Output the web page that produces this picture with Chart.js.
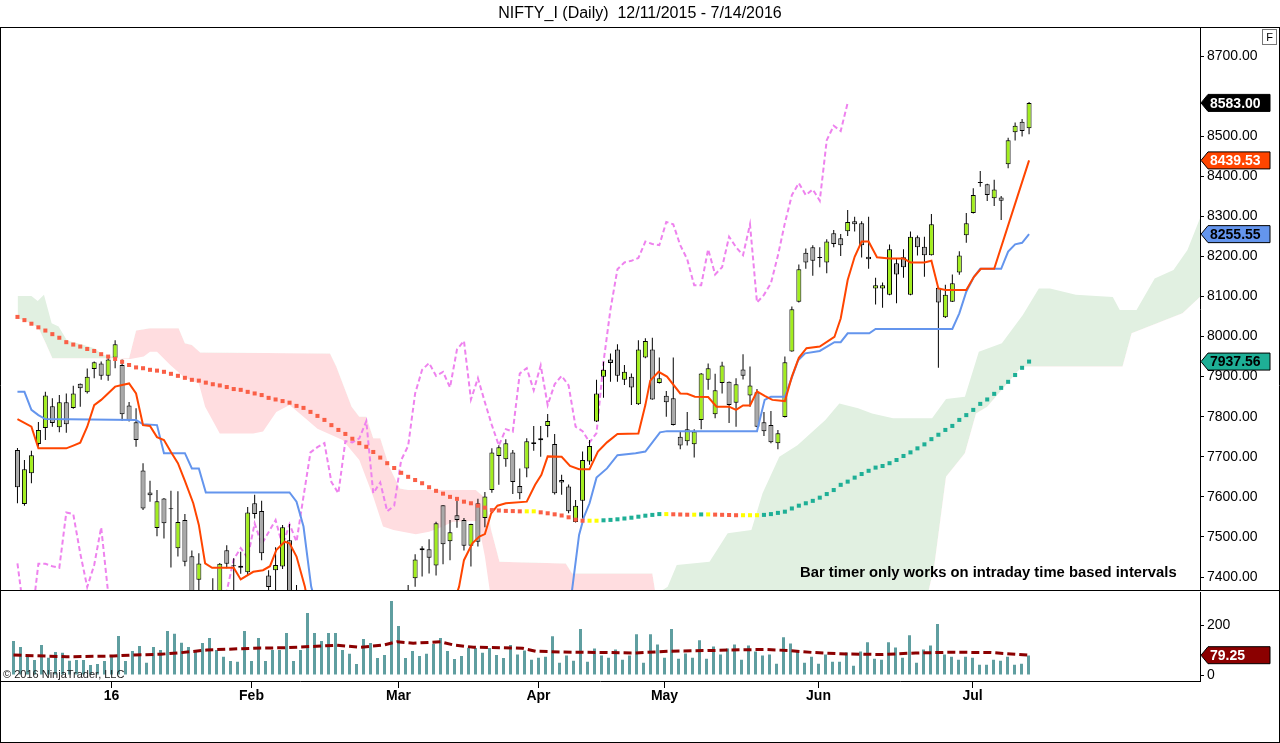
<!DOCTYPE html>
<html>
<head>
<meta charset="utf-8">
<script src="https://cdn.jsdelivr.net/npm/chart.js@4.4.1/dist/chart.umd.min.js"></script>
<style>
html,body{margin:0;padding:0;background:#fff;width:1280px;height:743px;overflow:hidden;font-family:"Liberation Sans",Arial,sans-serif}
#wrap{position:relative;width:1280px;height:743px}
canvas{position:absolute;left:0;top:0}
.t{position:absolute;white-space:nowrap;color:#000}
</style>
</head>
<body>
<div id="wrap">
<canvas id="main" width="1280" height="743"></canvas>
<canvas id="vol" width="1280" height="743"></canvas>
<div class="t" style="left:0;top:4px;width:1280px;text-align:center;font-size:16px;line-height:18px">NIFTY_I (Daily)&nbsp; 12/11/2015 - 7/14/2016</div>
<div class="t" style="left:1262px;top:29px;width:13px;height:14px;border:1px solid #777;font-size:11px;line-height:14px;text-align:center">F</div>
<div class="t" style="left:800px;top:563px;font-size:14.8px;line-height:18px;font-weight:bold">Bar timer only works on intraday time based intervals</div>
<div class="t" style="left:3px;top:668px;font-size:11px;line-height:13px;color:#222">© 2016 NinjaTrader, LLC</div>
</div>
<script>
// ---------- DATA ----------
const monthTicks  = [14, 34, 55, 75, 93, 115, 137];
const monthLabels = ['16', 'Feb', 'Mar', 'Apr', 'May', 'Jun', 'Jul'];
const priceTicks  = [7400, 7500, 7600, 7700, 7800, 7900, 8000, 8100, 8200, 8300, 8400, 8500, 8700];
const volumeTicks = [0, 200];

const opens = [7717,7582,7659,7732,7772,7826,7774,7836,7822,7882,
 7861,7919,7933,7902,7947,7929,7828,7786,7666,7611,
 7522,7596,7571,7472,7542,7452,7393,7330,7330,7320,
 7467,7429,7428,7412,7584,7565,7404,7417,7426,7492,
 7350,7300,7200,6990,7080,7200,7020,7140,7190,7240,
 7250,7100,7050,7000,7060,7030,7250,7397,7467,7469,
 7429,7579,7489,7554,7542,7478,7584,7547,7617,7702,
 7694,7711,7627,7671,7732,7741,7777,7732,7642,7626,
 7537,7590,7688,7788,7900,7943,7968,7892,7900,7831,
 7948,7968,7884,7852,7846,7750,7739,7731,7792,7892,
 7806,7884,7887,7835,7918,7853,7861,7786,7779,7734,
 7799,7963,8087,8209,8223,8198,8185,8258,8245,8263,
 8288,8283,8199,8120,8120,8104,8183,8198,8104,8248,
 8224,8203,8122,8048,8087,8160,8253,8308,8385,8380,
 8345,8347,8430,8510,8536,8520];
const highs = [7722,7692,7715,7787,7862,7846,7854,7858,7877,7883,
 7920,7938,7938,7946,7991,7943,7837,7821,7684,7640,
 7617,7597,7615,7614,7557,7466,7459,7350,7397,7435,
 7479,7447,7463,7575,7605,7590,7417,7474,7530,7532,
 7380,7320,7220,7030,7200,7210,7140,7210,7250,7270,
 7260,7120,7060,7080,7100,7250,7380,7457,7477,7494,
 7538,7579,7542,7590,7547,7533,7595,7612,7721,7729,
 7744,7717,7671,7746,7777,7777,7807,7757,7655,7631,
 7592,7713,7742,7892,7937,7958,7981,7929,7908,7991,
 7996,7997,7948,7864,7948,7763,7812,7769,7909,7933,
 7907,7937,7888,7896,7956,7925,7869,7812,7814,7767,
 7950,8075,8180,8220,8228,8223,8243,8266,8256,8316,
 8299,8288,8299,8147,8135,8230,8195,8218,8262,8252,
 8249,8306,8123,8129,8155,8213,8308,8370,8413,8381,
 8391,8351,8496,8534,8543,8585];
const lows = [7584,7578,7634,7725,7742,7775,7761,7760,7820,7825,
 7858,7896,7892,7890,7921,7790,7788,7725,7567,7588,
 7502,7496,7424,7451,7427,7300,7355,7240,7260,7300,
 7422,7360,7408,7405,7546,7442,7350,7360,7420,7340,
 7280,7210,6960,6900,7060,7040,6990,7110,7170,7200,
 7100,7000,6960,6980,6850,7020,7240,7376,7401,7409,
 7404,7432,7442,7523,7466,7426,7476,7524,7610,7630,
 7675,7607,7594,7649,7715,7700,7749,7606,7605,7559,
 7536,7546,7680,7787,7847,7887,7887,7879,7829,7829,
 7946,7842,7883,7800,7778,7719,7728,7698,7769,7867,
 7796,7858,7784,7775,7893,7825,7774,7752,7734,7719,
 7798,7962,8085,8169,8152,8173,8158,8223,8201,8251,
 8262,8197,8169,8080,8072,8103,8083,8147,8103,8202,
 8149,8202,7922,8046,8086,8154,8234,8307,8374,8338,
 8326,8291,8420,8489,8499,8505];
const closes = [7624,7669,7704,7767,7853,7784,7836,7781,7858,7871,
 7900,7936,7902,7943,7981,7806,7792,7742,7571,7604,
 7589,7534,7569,7537,7438,7340,7434,7300,7285,7433,
 7433,7427,7423,7561,7557,7459,7375,7430,7524,7360,
 7310,7230,6990,7000,7180,7065,7125,7210,7230,7255,
 7125,7035,6990,7045,7000,7240,7365,7444,7472,7448,
 7534,7482,7512,7542,7478,7532,7488,7601,7711,7724,
 7734,7637,7609,7739,7736,7746,7789,7609,7636,7564,
 7578,7692,7727,7858,7917,7934,7902,7912,7873,7968,
 7989,7843,7896,7836,7779,7728,7769,7763,7908,7921,
 7866,7928,7829,7881,7902,7878,7775,7764,7736,7759,
 7936,8068,8168,8185,8189,8196,8237,8231,8228,8286,
 8280,8228,8193,8128,8128,8218,8155,8173,8249,8223,
 8203,8280,8085,8104,8133,8202,8283,8353,8383,8353,
 8367,8339,8490,8526,8513,8583];
const volumes = [136,112,73,60,120,69,92,89,57,60,
 60,40,44,56,73,156,56,96,116,49,
 112,100,176,165,129,112,100,128,148,100,
 73,56,53,176,56,148,56,100,100,168,
 56,100,248,168,136,168,168,100,85,44,
 144,128,68,80,296,196,68,96,76,85,
 124,148,96,64,76,108,108,89,108,80,
 68,120,82,98,61,69,73,155,49,78,
 57,184,53,106,78,69,102,61,78,163,
 49,163,122,69,184,65,86,69,139,65,
 114,82,106,122,61,118,94,78,82,45,
 151,126,98,49,73,45,82,53,53,90,
 37,94,131,65,61,131,110,69,159,49,
 102,118,204,82,73,61,73,69,41,41,
 61,57,73,41,45,78];
// Conversion line (bar index, value) vertices
const tenkan = [[0,7794],[2,7775],[3,7721],[7,7721],[8,7728],[9,7735],[10,7775],[11,7829],[12,7842],[14,7875],[15,7879],[16,7883],[17,7858],[18,7779],[19,7777],[20,7749],[21,7742],[22,7712],[23,7684],[24,7640],[25.2,7584],[26,7530],[26.9,7434],[27.9,7423],[31,7423],[32,7394],[33.8,7413],[35.2,7417],[36.2,7427],[37.1,7467],[38.3,7488],[39,7484],[40,7451],[41.2,7376],[42,7300],[45,7150],[50,7090],[55,7050],[60,7200],[63.3,7376],[64,7442],[65.2,7484],[66.2,7501],[67,7507],[67.9,7559],[68.8,7578],[70,7584],[73,7588],[74.2,7630],[75.1,7655],[76,7701],[78,7700],[79.2,7677],[80.5,7669],[82,7669],[83.2,7713],[84.5,7736],[86,7757],[89,7758],[90,7829],[90.7,7890],[91.9,7912],[93.1,7900],[95,7858],[96,7857],[97.1,7850],[99,7849],[100.2,7825],[102,7825],[103,7817],[104,7828],[105,7828],[106,7863],[107.1,7852],[108.2,7842],[110,7839],[111,7900],[112,7947],[113.1,7971],[115,7975],[117.1,7999],[118,8045],[119,8141],[120,8199],[121,8237],[122,8237],[123.2,8198],[125,8195],[127,8195],[128,8185],[130,8185],[131,8189],[132,8120],[133,8116],[136,8116],[137.1,8149],[138.1,8169],[140,8169],[145,8439.53]];
// Base line vertices
const kijun = [[0,7862],[1,7862],[2,7817],[3,7804],[4,7794],[17,7792],[18,7781],[20,7779],[21,7709],[24,7709],[25,7671],[26,7671],[27,7611],[39,7611],[40,7588],[41,7526],[42.1,7376],[43,7320],[50,7260],[60,7230],[70,7290],[79,7300],[80.5,7505],[81.2,7550],[82,7584],[83,7648],[84.5,7671],[86,7704],[88.6,7709],[90,7713],[92.1,7761],[93.1,7764],[106,7764],[107.1,7842],[108,7850],[110,7850],[111.9,7941],[112.9,7958],[115,7964],[117.1,7986],[118,7986],[119,8008],[122.1,8008],[123,8019],[134,8019],[135,8058],[136,8112],[137.1,8149],[138,8169],[141,8169],[142,8212],[143,8230],[144,8234],[145,8255.55]];
// Leading span A / B vertices (cloud edges)
const senkouA = [[0,8101],[2,8101],[2.9,8089],[3.8,8104],[4.9,8033],[5.9,8025],[7.1,7990],[9.5,7979],[11,7971],[12.3,7954],[15.3,7944],[16.2,7944],[18.1,7950],[19,7962],[20,7962],[21.9,7929],[23.8,7900],[26,7883],[26.9,7825],[29,7758],[33.8,7758],[35.2,7763],[37.1,7812],[39,7829],[41,7800],[43,7770],[46.6,7742],[47,7734],[49,7692],[51,7600],[52.4,7526],[53.9,7517],[57.1,7507],[59,7513],[61,7526],[62.4,7538],[66,7540],[67,7451],[68,7330],[72,7200],[80,7160],[88,7250],[92,7362],[93.2,7376],[94.5,7430],[99.2,7438],[101.8,7509],[105.2,7517],[106.8,7609],[109.2,7700],[111.8,7729],[115.8,7792],[117.8,7833],[120.5,7821],[122.5,7808],[125.5,7796],[131.1,7796],[133.1,7844],[135.8,7850],[137.8,7962],[141.1,7983],[144.1,8054],[146.4,8120],[148,8120],[151.7,8104],[157,8099],[158,8066],[160.4,8066],[163,8145],[165.7,8166],[167.7,8216],[169.5,8295],[171,8345]];
const senkouB = [[0,8045],[1,8040],[2,8032],[3,8022],[4,7985],[5,7946],[16,7946],[17,8015],[19,8021],[23.1,8021],[24,7983],[25,7979],[26.2,7960],[44.8,7958],[45.7,7925],[47.9,7825],[49,7800],[50,7800],[51,7746],[52,7746],[53.3,7675],[54.8,7621],[56,7617],[65.7,7617],[67.1,7596],[67.9,7517],[69.1,7438],[78.6,7434],[79.5,7409],[91,7409],[92,7300],[100,7280],[120,7290],[130,7320],[131.4,7426],[133.1,7650],[135.8,7709],[137.4,7808],[139,7825],[143.1,7908],[144,7925],[158.4,7925],[159.7,8008],[167,8058],[169.5,8099],[171,8100]];
// Moving average dots, one per bar
const maDots = [8049,8041,8032,8023,8015,8006,7997,7986,7980,7975,
 7969,7964,7956,7950,7944,7937,7929,7923,7921,7917,
 7915,7912,7907,7902,7897,7892,7890,7885,7881,7878,
 7874,7869,7867,7862,7858,7854,7847,7843,7839,7835,
 7827,7822,7812,7802,7792,7779,7767,7757,7745,7734,
 7725,7712,7698,7684,7672,7660,7650,7642,7634,7624,
 7615,7608,7600,7595,7588,7584,7578,7573,7567,7566,
 7565,7564.5,7563.9,7563.9,7563.9,7561.4,7559,7556.4,7553.5,7549,
 7543,7540.5,7540.5,7540.5,7541.5,7542.5,7544,7546,7548,7550.5,
 7553,7555,7557,7557,7556.5,7556,7555.5,7555.5,7556.2,7556.2,
 7555.7,7555.2,7554.7,7554.2,7554.2,7554.2,7554.2,7555,7557,7560,
 7563,7571,7578,7584,7590,7598,7607,7617,7630,7638,
 7648,7657,7665,7673,7677,7684,7692,7702,7711,7721,
 7731,7744,7755,7767,7777,7792,7804,7817,7832,7843,
 7857,7872,7887,7904,7922,7937.56];
// Volume moving average vertices
const volumeMA = [[0,80],[2.9,77],[7.6,73],[14.3,76],[17.2,80],[21,83],[23.8,89],[27.6,100],[31.4,104],[34.3,107],[38.6,109],[43.3,115],[46.2,119],[49.5,111],[52.9,120],[54.8,133],[57.1,127],[61,133],[62.9,120],[65.7,111],[69.5,109],[72.7,107],[74.6,95],[80,91],[85,90],[88.7,88],[93.6,95],[99.5,98],[104.4,101],[107.3,102],[110.7,98],[114.2,90],[119,84],[124,82],[128.9,88],[133.8,91],[139.6,90],[145,79.25]];

// ---------- STYLE ----------
const UP = '#A2EE1E', DOWN = '#A9A9A9';
const C_TENKAN = '#FF4500', C_KIJUN = '#6495ED', C_CHIKOU = '#EE82EE';
const C_GREEN = '#E1F0E1', C_PINK = '#FFDDE0';
const C_RED = '#FA5F46', C_YEL = '#FFFF00', C_TEAL = '#1EAF96';
const C_VOL = '#5F9EA0', C_VMA = '#8B0000';
const FONT = '"Liberation Sans", Arial, sans-serif';
Chart.defaults.font.family = FONT;
Chart.defaults.color = '#000';

const X_MIN = -13.5 / 7, X_MAX = X_MIN + 1200 / 7;
const pts = a => a.map(([x, y]) => ({x, y}));
const lastClose = closes[closes.length - 1];
const chikou = closes.slice(26).map((c, i) => ({x: i, y: c}));

function drawTag(ctx, x, y, text, bg, fg) {
  const h = 8.5;
  ctx.save();
  ctx.beginPath();
  ctx.moveTo(x + 1, y);
  ctx.lineTo(x + 8, y - h);
  ctx.lineTo(x + 70, y - h);
  ctx.lineTo(x + 70, y + h);
  ctx.lineTo(x + 8, y + h);
  ctx.closePath();
  ctx.fillStyle = bg; ctx.fill();
  ctx.strokeStyle = '#000'; ctx.lineWidth = 1; ctx.stroke();
  ctx.fillStyle = fg;
  ctx.font = 'bold 14px ' + FONT;
  ctx.textBaseline = 'middle'; ctx.textAlign = 'left';
  ctx.fillText(text, x + 10, y + 1);
  ctx.restore();
}

const mainTags = {
  id: 'mainTags',
  afterDraw(chart) {
    const {ctx, chartArea: a} = chart;
    const y = chart.scales.y;
    ctx.save();
    ctx.strokeStyle = '#000'; ctx.lineWidth = 1;
    ctx.beginPath();
    ctx.moveTo(0, a.top - 0.5); ctx.lineTo(1280, a.top - 0.5);
    ctx.moveTo(0.5, a.top - 0.5); ctx.lineTo(0.5, 743);
    ctx.moveTo(1279.5, a.top - 0.5); ctx.lineTo(1279.5, 743);
    ctx.moveTo(0, 742.5); ctx.lineTo(1280, 742.5);
    ctx.moveTo(0, a.bottom + 0.5); ctx.lineTo(1280, a.bottom + 0.5);
    ctx.stroke();
    ctx.restore();
    const tl = tenkan[tenkan.length - 1][1], kl = kijun[kijun.length - 1][1], ml = maDots[maDots.length - 1];
    drawTag(ctx, a.right, y.getPixelForValue(lastClose), lastClose.toFixed(2), '#000', '#fff');
    drawTag(ctx, a.right, y.getPixelForValue(tl), tl.toFixed(2), C_TENKAN, '#fff');
    drawTag(ctx, a.right, y.getPixelForValue(kl), kl.toFixed(2), C_KIJUN, '#000');
    drawTag(ctx, a.right, y.getPixelForValue(ml), ml.toFixed(2), C_TEAL, '#000');
  }
};

const volTags = {
  id: 'volTags',
  afterDraw(chart) {
    const v = volumeMA[volumeMA.length - 1][1];
    drawTag(chart.ctx, chart.chartArea.right, chart.scales.y.getPixelForValue(v), v.toFixed(2), C_VMA, '#fff');
  }
};

const maColor = ctx => {
  const i = ctx.dataIndex;
  const d = i > 0 ? maDots[i] - maDots[i - 1] : -1;
  return d > 0.05 ? C_TEAL : (d < -0.05 ? C_RED : C_YEL);
};

new Chart(document.getElementById('main'), {
  type: 'line',
  data: {
    datasets: [
      {label: 'Span A', data: pts(senkouA), borderWidth: 0, borderColor: 'transparent', pointRadius: 0,
       fill: {target: '+1', above: C_GREEN, below: C_PINK}, order: 20, clip: 0},
      {label: 'Span B', data: pts(senkouB), borderWidth: 0, borderColor: 'transparent', pointRadius: 0,
       fill: false, order: 21, clip: 0},
      {label: 'Lagging', data: chikou, borderColor: C_CHIKOU, borderWidth: 2, borderDash: [5, 3],
       pointRadius: 0, fill: false, order: 6, clip: 0},
      {type: 'bar', label: 'Wicks', data: lows.map((l, i) => ({x: i, y: [l, highs[i]]})),
       backgroundColor: '#000', barThickness: 1, grouped: false, inflateAmount: 0, borderWidth: 0, order: 5, clip: 0},
      {type: 'bar', label: 'Bodies', data: opens.map((o, i) => ({x: i, y: [o, closes[i]]})),
       backgroundColor: ctx => closes[ctx.dataIndex] >= opens[ctx.dataIndex] ? UP : DOWN,
       borderColor: '#000', borderWidth: 1, borderSkipped: false, barThickness: 5, minBarLength: 1,
       grouped: false, inflateAmount: 0, order: 4, clip: 0},
      {label: 'Base', data: pts(kijun), borderColor: C_KIJUN, borderWidth: 2, pointRadius: 0, fill: false, order: 3, clip: 0},
      {label: 'Conversion', data: pts(tenkan), borderColor: C_TENKAN, borderWidth: 2, pointRadius: 0, fill: false, order: 2, clip: 0},
      {label: 'MA', data: maDots.map((v, i) => ({x: i, y: v})), showLine: false, pointStyle: 'rect',
       pointRadius: 2.85, pointBorderWidth: 0, pointBackgroundColor: maColor, order: 1, clip: 0}
    ]
  },
  options: {
    responsive: false, animation: false, devicePixelRatio: 1,
    layout: {padding: {top: 28, bottom: 153, left: 0, right: 0}},
    plugins: {legend: {display: false}, tooltip: {enabled: false}},
    scales: {
      x: {type: 'linear', min: X_MIN, max: X_MAX, offset: false, display: false},
      y: {position: 'right', min: 7367.6, max: 8769.9,
          afterFit(s) { s.width = 80; },
          afterBuildTicks(s) { s.ticks = priceTicks.map(v => ({value: v})); },
          ticks: {callback: v => Number(v).toFixed(2), color: '#000', font: {size: 14}, padding: 3, autoSkip: false},
          grid: {drawOnChartArea: false, drawTicks: true, tickLength: 4, color: '#000', offset: false},
          border: {color: '#000'}}
    }
  },
  plugins: [mainTags]
});

new Chart(document.getElementById('vol'), {
  type: 'bar',
  data: {
    datasets: [
      {type: 'line', label: 'Volume MA', data: pts(volumeMA), borderColor: C_VMA, borderWidth: 3,
       borderDash: [8, 4], pointRadius: 0, fill: false, order: 1, clip: 0},
      {type: 'bar', label: 'Volume', data: volumes.map((v, i) => ({x: i, y: v})), backgroundColor: C_VOL,
       barThickness: 3, grouped: false, inflateAmount: 0, borderWidth: 0, order: 2, clip: 0}
    ]
  },
  options: {
    responsive: false, animation: false, devicePixelRatio: 1,
    layout: {padding: {top: 592, bottom: 0, left: 0, right: 0}},
    plugins: {legend: {display: false}, tooltip: {enabled: false}},
    scales: {
      x: {type: 'linear', min: X_MIN, max: X_MAX, offset: false,
          afterFit(s) { s.height = 62; },
          afterBuildTicks(s) { s.ticks = monthTicks.map(v => ({value: v})); },
          ticks: {callback: (v, i) => monthLabels[i], autoSkip: false, maxRotation: 0, padding: 0,
                  color: '#000', font: {size: 14, weight: 'bold'}},
          grid: {drawOnChartArea: false, drawTicks: true, tickLength: 7, color: '#000', offset: false},
          border: {color: '#000'}},
      y: {position: 'right', min: -24, max: 332,
          afterFit(s) { s.width = 80; },
          afterBuildTicks(s) { s.ticks = volumeTicks.map(v => ({value: v})); },
          ticks: {callback: v => String(v), color: '#000', font: {size: 14}, padding: 3, autoSkip: false},
          grid: {drawOnChartArea: false, drawTicks: true, tickLength: 4, color: '#000', offset: false},
          border: {color: '#000'}}
    }
  },
  plugins: [volTags]
});
</script>
</body>
</html>
